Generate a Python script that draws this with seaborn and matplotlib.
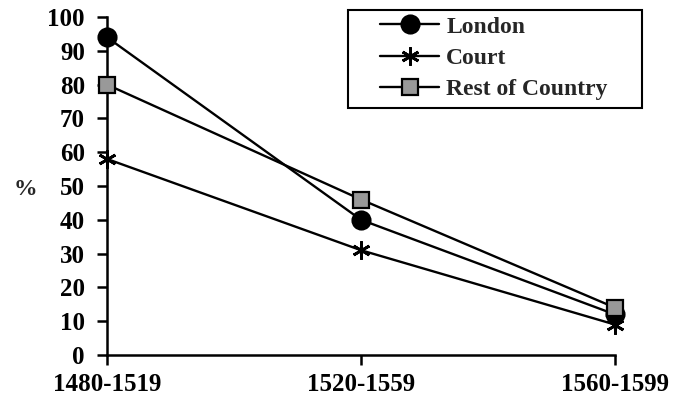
import matplotlib
matplotlib.use("Agg")
import matplotlib.pyplot as plt
import seaborn as sns
import pandas as pd
from matplotlib.patches import Rectangle

periods = ["1480-1519", "1520-1559", "1560-1599"]
london = [94, 40, 12]
court = [58, 31, 9]
rest = [80, 46, 14]
yticks = list(range(0, 101, 10))

sns.set_style("ticks")
plt.rcParams["font.family"] = ["Liberation Serif", "DejaVu Serif"]
plt.rcParams["font.weight"] = "bold"

fig = plt.figure(figsize=(6.75, 4.12), dpi=100)
ax = fig.add_axes([107 / 675, 1 - 355 / 412, 508 / 675, 338 / 412])

styles = [
    ("London", london, "o", "black", 13, 1.5),
    ("Court", court, (6, 2, 0), "black", 13, 2.0),
    ("Rest of Country", rest, "s", "#999999", 11.5, 1.6),
]
for name, vals, mk, fc, ms, mew in styles:
    df = pd.DataFrame({"period": periods, "pct": vals})
    sns.lineplot(data=df, x="period", y="pct", ax=ax, color="black", lw=1.7,
                 marker=mk, markersize=ms, markerfacecolor=fc,
                 markeredgecolor="black", markeredgewidth=mew, label=name,
                 clip_on=False, zorder=3)

ax.set_xlim(0, 2)
ax.set_ylim(0, 100)
ax.set_yticks(yticks)
ax.set_xlabel("")
ax.set_ylabel("%", rotation=0, fontsize=17, fontweight="bold", va="center")
ax.yaxis.set_label_coords(-0.161, 0.49)

for s in ["top", "right"]:
    ax.spines[s].set_visible(False)
for s in ["left", "bottom"]:
    ax.spines[s].set_linewidth(1.8)
    ax.spines[s].set_color("black")

ax.tick_params(axis="both", direction="out", length=7, width=1.8, color="black",
               labelsize=18, labelcolor="black")
ax.tick_params(axis="y", pad=9)
ax.tick_params(axis="x", pad=6)
for lab in ax.get_xticklabels() + ax.get_yticklabels():
    lab.set_fontweight("bold")

leg = ax.legend(loc="upper left", bbox_to_anchor=(380 / 675, 1 - 16 / 412),
                bbox_transform=fig.transFigure, frameon=False, fontsize=17,
                handlelength=2.5, handletextpad=0.3, labelspacing=0.42,
                borderpad=0.0, borderaxespad=0)
for t in leg.get_texts():
    t.set_fontweight("bold")

fig.patches.append(Rectangle((348 / 675, 1 - 108 / 412), 294 / 675, 98 / 412,
                             transform=fig.transFigure, fill=False,
                             edgecolor="black", linewidth=1.5))

fig.savefig("out.png", dpi=100, facecolor="white")
